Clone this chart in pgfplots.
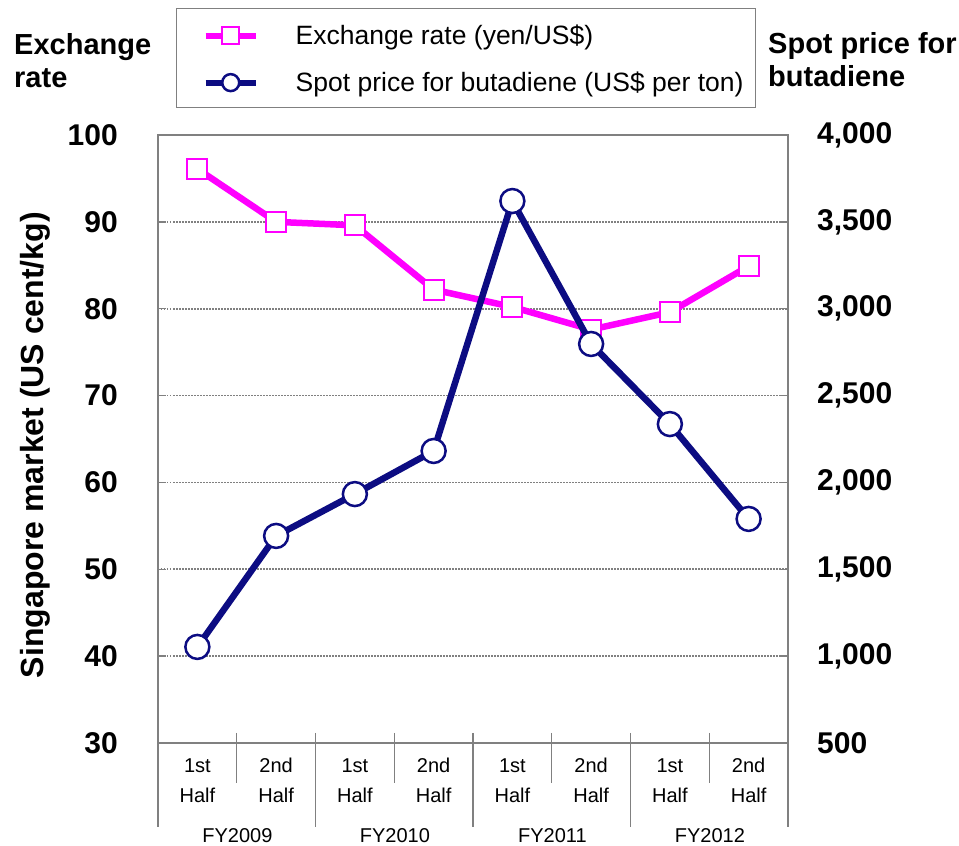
\documentclass[border=0pt]{standalone}
\usepackage{pgfplots}
\pgfplotsset{compat=1.18}
\usepackage{fontspec}
\setmainfont{Liberation Sans}
\definecolor{mag}{RGB}{255,0,255}
\definecolor{navy}{RGB}{12,12,130}
\definecolor{framegray}{RGB}{128,128,128}

\pgfplotsset{
  common/.style={
    at={(158pt,103pt)}, anchor=south west,
    scale only axis, width=630pt, height=608pt,
    xmin=-0.5, xmax=7.5,
    axis line style={draw=framegray, line width=1.6pt},
    tick align=inside, major tick length=8pt,
    tick style={draw=framegray, line width=1.4pt},
    /pgf/number format/assume math mode=true,
    /pgf/number format/1000 sep={,},
    tick label style={font=\fontsize{30}{30}\selectfont\bfseries},
  },
}

\begin{document}
\begin{tikzpicture}
\useasboundingbox (0pt,0pt) rectangle (959pt,846pt);

\begin{axis}[common,
  ymin=30, ymax=100, ytick={30,40,...,100},
  ymajorgrids, grid style={draw=framegray, line width=1.6pt, dash pattern=on 1.5pt off 1.5pt},
  yticklabel style={anchor=east, inner sep=0pt, xshift=-40pt},
  xtick={0,...,7},
  xtick style={draw=none},
  xticklabels={{1st\\Half},{2nd\\Half},{1st\\Half},{2nd\\Half},{1st\\Half},{2nd\\Half},{1st\\Half},{2nd\\Half}},
  xticklabel style={font=\fontsize{20}{30}\selectfont, align=center, anchor=base, inner sep=0pt, yshift=-60pt},
  ylabel={Singapore market (US cent/kg)},
  ylabel style={at={(axis description cs:-0.195,0.49)}, anchor=center, font=\fontsize{32}{32}\selectfont\bfseries},
  clip=false,
]
\addplot[mag, line width=6.5pt, mark=square*, mark size=10pt,
  mark options={solid, fill=white, draw=mag, line width=2pt}]
  coordinates {(0,96.1) (1,90.0) (2,89.6) (3,82.2) (4,80.2) (5,77.6) (6,79.6) (7,84.9)};
% category separators
\draw[framegray, line width=1.4pt] (axis cs:0.5,30) ++(0pt,10pt) -- ++(0pt,-50pt);
\draw[framegray, line width=1.4pt] (axis cs:2.5,30) ++(0pt,10pt) -- ++(0pt,-50pt);
\draw[framegray, line width=1.4pt] (axis cs:4.5,30) ++(0pt,10pt) -- ++(0pt,-50pt);
\draw[framegray, line width=1.4pt] (axis cs:6.5,30) ++(0pt,10pt) -- ++(0pt,-50pt);
\draw[framegray, line width=1.4pt] (axis cs:1.5,30) ++(0pt,10pt) -- ++(0pt,-94pt);
\draw[framegray, line width=1.4pt] (axis cs:3.5,30) ++(0pt,10pt) -- ++(0pt,-94pt);
\draw[framegray, line width=1.4pt] (axis cs:5.5,30) ++(0pt,10pt) -- ++(0pt,-94pt);
\draw[framegray, line width=1.4pt] (axis cs:-0.5,30) -- ++(0pt,-84pt);
\draw[framegray, line width=1.4pt] (axis cs:7.5,30) -- ++(0pt,-84pt);
\end{axis}

\begin{axis}[common,
  axis x line=none, axis y line*=right,
  ymin=500, ymax=4000, ytick={500,1000,...,4000},
  yticklabel style={anchor=west, inner sep=0pt, xshift=29pt},
  legend cell align=left,
  legend style={at={(0.0286,1.209)}, anchor=north west,
    draw=framegray, line width=1.4pt, fill=white,
    inner xsep=12pt, inner ysep=12.5pt,
    font=\fontsize{26.5}{30}\selectfont,
    nodes={inner sep=0pt, text height=23pt, text depth=4pt},
    column sep=37pt, row sep=20pt},
  legend image code/.code={
    \path[draw=none, fill=none] (0pt,-1pt) rectangle (1pt,1pt);
    \draw[mark repeat=2, mark phase=2, #1, line width=6pt, mark size=8.5pt]
      plot coordinates {(17pt,-1pt) (42pt,-1pt) (67pt,-1pt)};
  },
]
\addlegendimage{mag, mark=square*, mark options={solid, fill=white, draw=mag, line width=1.5pt}}
\addlegendentry{Exchange rate (yen/US\$)}
\addplot[navy, line width=6.5pt, mark=*, mark size=12pt,
  mark options={solid, fill=white, draw=navy, line width=2.5pt}]
  coordinates {(0,1053) (1,1692) (2,1933) (3,2181) (4,3620) (5,2797) (6,2336) (7,1790)};
\addlegendentry{Spot price for butadiene (US\$ per ton)}
\end{axis}

\node[anchor=base west, inner sep=0pt, font=\fontsize{29}{33}\selectfont\bfseries, align=left] at (14pt,758pt) {Exchange\\rate};
\node[anchor=base west, inner sep=0pt, font=\fontsize{29}{33}\selectfont\bfseries, align=left] at (768pt,759pt) {Spot price for\\butadiene};
\foreach \xx/\lab in {237.4/FY2009, 394.9/FY2010, 552.4/FY2011, 709.9/FY2012}{
  \node[anchor=base, inner sep=0pt, font=\fontsize{20}{24}\selectfont] at (\xx pt,3pt) {\lab};
}
\end{tikzpicture}
\end{document}
